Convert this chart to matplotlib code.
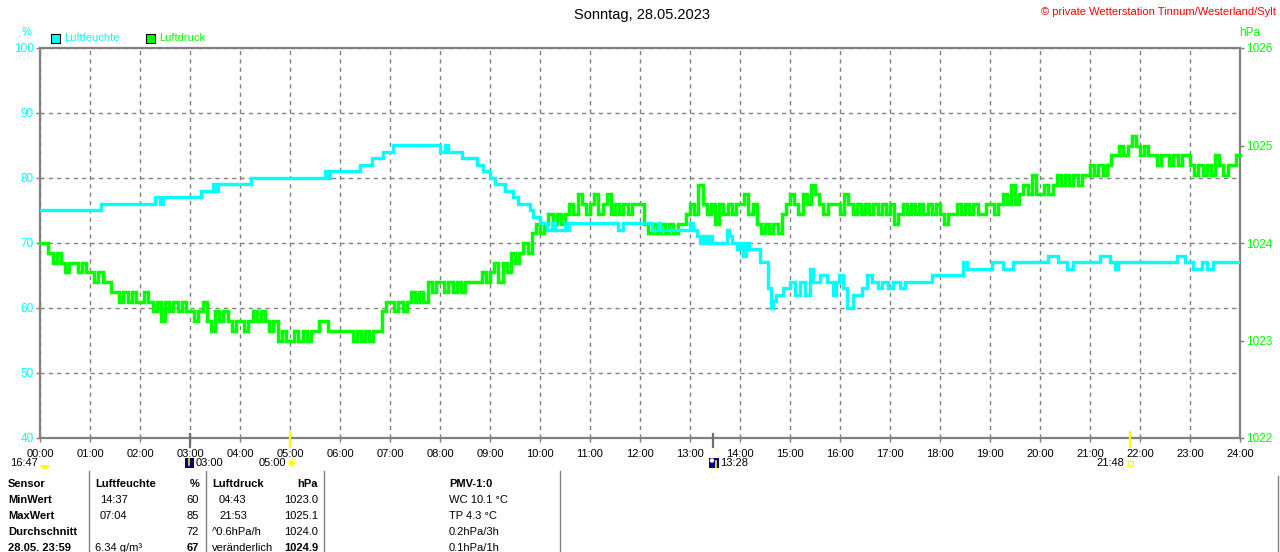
import numpy as np
import matplotlib
matplotlib.use('Agg')
import matplotlib.pyplot as plt
from matplotlib.patches import Rectangle, Circle, Wedge

plt.rcParams['font.family'] = ['Liberation Sans', 'DejaVu Sans']

# ---------------- data ----------------
title = 'Sonntag, 28.05.2023'
copyright_txt = '\u00a9 private Wetterstation Tinnum/Westerland/Sylt'

# humidity (%) step changes: time in hours
hum_t = [0.00, 1.22, 2.30, 2.40, 2.45, 3.22, 3.46, 3.52, 3.56, 4.22, 5.70, 5.76, 5.80,
         6.40, 6.64, 6.86, 7.06, 8.00, 8.10, 8.16, 8.44, 8.74, 8.86, 9.00, 9.10, 9.30,
         9.46, 9.56, 9.80, 9.86, 10.00, 10.14, 10.24, 10.30, 10.50, 10.54, 10.58, 11.56,
         11.66, 12.24, 12.36, 12.40, 13.00, 13.06, 13.14, 13.20, 13.26, 13.32, 13.38,
         13.44, 13.74, 13.78, 13.84, 13.94, 14.00, 14.06, 14.12, 14.18, 14.40, 14.56,
         14.62, 14.66, 14.72, 14.86, 15.00, 15.10, 15.20, 15.30, 15.40, 15.46, 15.60,
         15.74, 15.86, 15.92, 15.98, 16.06, 16.14, 16.26, 16.44, 16.54, 16.64, 16.76,
         16.84, 16.96, 17.06, 17.20, 17.30, 17.84, 18.46, 18.54, 19.04, 19.26, 19.46,
         20.16, 20.36, 20.54, 20.66, 21.20, 21.40, 21.50, 21.56, 22.74, 22.90, 23.06,
         23.24, 23.34, 23.46, 24.00]
hum_v = [75, 76, 77, 76, 77, 78, 79, 78, 79, 80, 81, 80, 81,
         82, 83, 84, 85, 84, 85, 84, 83, 82, 81, 80, 79, 78,
         77, 76, 75, 74, 73, 72, 73, 72, 73, 72, 73, 72,
         73, 72, 73, 72, 73, 72, 71, 70, 71, 70, 71,
         70, 72, 71, 70, 69, 70, 68, 70, 69, 67, 63,
         60, 61, 62, 63, 64, 62, 64, 62, 66, 64, 65,
         64, 62, 64, 65, 63, 60, 62, 63, 65, 64, 63,
         64, 63, 64, 63, 64, 65, 67, 66, 67, 66, 67,
         68, 67, 66, 67, 68, 67, 66, 67, 68, 67, 66,
         67, 66, 67, 67]

# air pressure (hPa), 5-minute values, one row per hour
pres_5min = [
    1024.0, 1024.0, 1023.9, 1023.8, 1023.9, 1023.8, 1023.7, 1023.8, 1023.8, 1023.7, 1023.8, 1023.7,
    1023.7, 1023.6, 1023.7, 1023.6, 1023.6, 1023.5, 1023.5, 1023.4, 1023.5, 1023.4, 1023.5, 1023.4,
    1023.4, 1023.5, 1023.4, 1023.3, 1023.4, 1023.2, 1023.4, 1023.3, 1023.4, 1023.3, 1023.4, 1023.3,
    1023.3, 1023.2, 1023.3, 1023.4, 1023.2, 1023.1, 1023.3, 1023.2, 1023.3, 1023.2, 1023.1, 1023.2,
    1023.2, 1023.1, 1023.2, 1023.3, 1023.2, 1023.3, 1023.2, 1023.1, 1023.2, 1023.0, 1023.1, 1023.0,
    1023.0, 1023.1, 1023.0, 1023.1, 1023.0, 1023.1, 1023.1, 1023.2, 1023.2, 1023.1, 1023.1, 1023.1,
    1023.1, 1023.1, 1023.1, 1023.0, 1023.1, 1023.0, 1023.1, 1023.0, 1023.1, 1023.1, 1023.3, 1023.4,
    1023.4, 1023.3, 1023.4, 1023.3, 1023.4, 1023.5, 1023.4, 1023.5, 1023.4, 1023.6, 1023.5, 1023.6,
    1023.6, 1023.5, 1023.6, 1023.5, 1023.6, 1023.5, 1023.6, 1023.6, 1023.6, 1023.6, 1023.7, 1023.6,
    1023.7, 1023.8, 1023.6, 1023.8, 1023.7, 1023.9, 1023.8, 1023.9, 1024.0, 1023.9, 1024.1, 1024.2,
    1024.1, 1024.2, 1024.3, 1024.2, 1024.3, 1024.2, 1024.3, 1024.4, 1024.3, 1024.5, 1024.4, 1024.3,
    1024.4, 1024.5, 1024.3, 1024.4, 1024.5, 1024.3, 1024.4, 1024.3, 1024.4, 1024.3, 1024.4, 1024.4,
    1024.4, 1024.2, 1024.1, 1024.2, 1024.1, 1024.2, 1024.1, 1024.2, 1024.1, 1024.2, 1024.2, 1024.3,
    1024.4, 1024.3, 1024.6, 1024.4, 1024.3, 1024.4, 1024.2, 1024.4, 1024.3, 1024.4, 1024.3, 1024.4,
    1024.4, 1024.5, 1024.3, 1024.4, 1024.2, 1024.1, 1024.2, 1024.1, 1024.2, 1024.1, 1024.3, 1024.4,
    1024.5, 1024.4, 1024.3, 1024.5, 1024.4, 1024.6, 1024.5, 1024.4, 1024.3, 1024.4, 1024.4, 1024.4,
    1024.3, 1024.5, 1024.4, 1024.3, 1024.4, 1024.3, 1024.4, 1024.3, 1024.4, 1024.3, 1024.4, 1024.3,
    1024.4, 1024.2, 1024.3, 1024.4, 1024.3, 1024.4, 1024.3, 1024.4, 1024.3, 1024.4, 1024.3, 1024.4,
    1024.3, 1024.2, 1024.3, 1024.3, 1024.4, 1024.3, 1024.4, 1024.3, 1024.4, 1024.3, 1024.3, 1024.4,
    1024.4, 1024.3, 1024.4, 1024.5, 1024.4, 1024.6, 1024.4, 1024.5, 1024.6, 1024.5, 1024.7, 1024.5,
    1024.5, 1024.6, 1024.5, 1024.6, 1024.7, 1024.6, 1024.7, 1024.6, 1024.7, 1024.6, 1024.7, 1024.7,
    1024.8, 1024.7, 1024.8, 1024.7, 1024.8, 1024.9, 1024.9, 1025.0, 1024.9, 1025.0, 1025.1, 1025.0,
    1024.9, 1025.0, 1024.9, 1024.9, 1024.8, 1024.9, 1024.9, 1024.8, 1024.9, 1024.8, 1024.9, 1024.9,
    1024.8, 1024.7, 1024.8, 1024.7, 1024.8, 1024.7, 1024.9, 1024.8, 1024.7, 1024.8, 1024.8, 1024.9,
]

hour_labels = ['%02d:00' % h for h in range(25)]
hum_ticks = [40, 50, 60, 70, 80, 90, 100]
pres_ticks = [1022, 1023, 1024, 1025, 1026]

# sun / moon events (hours)
moon_events = [3.0, 13 + 28 / 60]
sun_events = [5.0, 21 + 48 / 60]

# table
table_rows = ['Sensor', 'MinWert', 'MaxWert', 'Durchschnitt', '28.05. 23:59']
hum_col_time = ['Luftfeuchte', '14:37', '07:04', '', '6.34 g/m\u00b3']
hum_col_val = ['%', '60', '85', '72', '67']
pres_col_time = ['Luftdruck', '04:43', '21:53', '^0.6hPa/h', 'ver\u00e4nderlich']
pres_col_val = ['hPa', '1023.0', '1025.1', '1024.0', '1024.9']
pmv_col = ['PMV-1:0', 'WC 10.1 \u00b0C', 'TP 4.3 \u00b0C', '0.2hPa/3h', '0.1hPa/1h']

# ---------------- styling ----------------
CYAN = '#00FFFF'
GREEN = '#00FF00'
GRAY = '#808080'
W, H = 1280, 552

fig = plt.figure(figsize=(12.8, 5.52), dpi=100)
fig.patch.set_facecolor('white')
rect = [40 / W, (H - 438) / H, 1200 / W, 390 / H]

axg = fig.add_axes(rect, zorder=0)
axp = fig.add_axes(rect, zorder=1)
axh = fig.add_axes(rect, zorder=2)

# grid / frame axes
axg.set_xlim(0, 24)
axg.set_ylim(40, 100)
axg.set_xticks(range(25))
axg.set_xticklabels(hour_labels, fontsize=8)
axg.set_yticks(hum_ticks)
axg.set_yticklabels([str(v) for v in hum_ticks], fontsize=8.5, color=CYAN)
axg.tick_params(axis='both', length=3, width=1, color=GRAY, pad=1.5)
axg.tick_params(axis='x', pad=5)
axg.grid(True, color=GRAY, linestyle=(0, (3, 3)), linewidth=1)
for s in axg.spines.values():
    s.set_color(GRAY)
    s.set_linewidth(1.6)

# pressure axes
axp.set_xlim(0, 24)
axp.set_ylim(1022, 1026)
axp.patch.set_visible(False)
for s in axp.spines.values():
    s.set_visible(False)
axp.set_xticks([])
axp.yaxis.tick_right()
axp.set_yticks(pres_ticks)
axp.set_yticklabels([str(v) for v in pres_ticks], fontsize=8.5, color=GREEN)
axp.tick_params(axis='y', length=3, width=1, color=GRAY, pad=1.5)
p_vals = list(pres_5min) + [pres_5min[-1]]
p_t = np.arange(len(p_vals)) / 12.0
axp.plot(p_t, p_vals, drawstyle='steps-post', color=GREEN, linewidth=2.5,
         solid_joinstyle='miter', clip_on=False)

# humidity axes
axh.set_xlim(0, 24)
axh.set_ylim(40, 100)
axh.axis('off')
axh.plot(hum_t, hum_v, drawstyle='steps-post', color=CYAN, linewidth=2.4,
         solid_joinstyle='miter')

# event marker lines below/at the time axis
xt = axg.get_xaxis_transform()
for t in moon_events:
    axg.plot([t, t], [0.01, -0.024], transform=xt, color='#707070', linewidth=1.6,
             clip_on=False, zorder=5)
for t in sun_events:
    axg.plot([t, t], [0.015, -0.024], transform=xt, color='#FFFF00', linewidth=1.6,
             clip_on=False, zorder=5)

# ---------------- overlay in pixel coords ----------------
ov = fig.add_axes([0, 0, 1, 1], zorder=3)
ov.set_xlim(0, W)
ov.set_ylim(H, 0)
ov.axis('off')
ov.patch.set_visible(False)

ov.text(642, 15, title, ha='center', va='center', fontsize=10.5, color='black')
ov.text(1276, 12, copyright_txt, ha='right', va='center', fontsize=8, color='#FF0000')
ov.text(27, 32, '%', ha='center', va='center', fontsize=8, color=CYAN)
ov.text(1250, 33, 'hPa', ha='center', va='center', fontsize=8.5, color=GREEN)

# legend
ov.add_patch(Rectangle((50.5, 33.5), 9, 9, facecolor=CYAN, edgecolor='black', linewidth=0.8))
ov.text(64, 38, 'Luftfeuchte', ha='left', va='center', fontsize=8, color=CYAN)
ov.add_patch(Rectangle((145.5, 33.5), 9, 9, facecolor=GREEN, edgecolor='black', linewidth=0.8))
ov.text(159, 38, 'Luftdruck', ha='left', va='center', fontsize=8, color=GREEN)

# sun / moon row
ty = 463
ov.text(38, ty, '16:47', ha='right', va='center', fontsize=8)
ov.add_patch(Wedge((45, 465), 4.5, 0, 180, facecolor='#FFFF00', edgecolor='none'))
ov.add_patch(Rectangle((185, 458), 9, 10, facecolor='#000080', edgecolor='none'))
ov.plot([188.5, 188.5], [459, 465], color='#FFFF00', linewidth=1.2)
ov.text(196, ty, '03:00', ha='left', va='center', fontsize=8)
ov.text(286, ty, '05:00', ha='right', va='center', fontsize=8)
ov.add_patch(Circle((292, 463), 3.5, facecolor='#FFFF00', edgecolor='#FFFFA0', linewidth=1.2))
ov.add_patch(Rectangle((709, 458), 10, 10, facecolor='#000080', edgecolor='none'))
ov.add_patch(Circle((712, 460.5), 2.2, facecolor='white', edgecolor='none'))
ov.plot([715.5, 715.5], [461, 468], color='#FFFF00', linewidth=1.2)
ov.text(720, ty, '13:28', ha='left', va='center', fontsize=8)
ov.text(1124, ty, '21:48', ha='right', va='center', fontsize=8)
ov.add_patch(Rectangle((1127.5, 461), 5, 5, facecolor='none', edgecolor='#FFFF00', linewidth=0.8))

# table separators
for xs in [89, 206, 324, 560]:
    ov.plot([xs, xs], [471, H], color=GRAY, linewidth=1)
ov.plot([1278, 1278], [476, H], color=GRAY, linewidth=1)

row_y = [484, 500, 516, 532, 548]
for i, y in enumerate(row_y):
    hdr = (i == 0)
    ov.text(8, y, table_rows[i], ha='left', va='center', fontsize=8, fontweight='bold')
    ov.text(95 if (hdr or i == 4) else 100, y, hum_col_time[i], ha='left', va='center',
            fontsize=8, fontweight='bold' if hdr else 'normal')
    ov.text(199, y, hum_col_val[i], ha='right', va='center', fontsize=8,
            fontweight='bold' if (hdr or i == 4) else 'normal')
    ov.text(212 if (hdr or i >= 3) else 219, y, pres_col_time[i], ha='left', va='center',
            fontsize=8, fontweight='bold' if hdr else 'normal')
    ov.text(318, y, pres_col_val[i], ha='right', va='center', fontsize=8,
            fontweight='bold' if (hdr or i == 4) else 'normal')
    ov.text(449, y, pmv_col[i], ha='left', va='center', fontsize=8,
            fontweight='bold' if hdr else 'normal')

fig.savefig('out.png', dpi=100, facecolor='white')
